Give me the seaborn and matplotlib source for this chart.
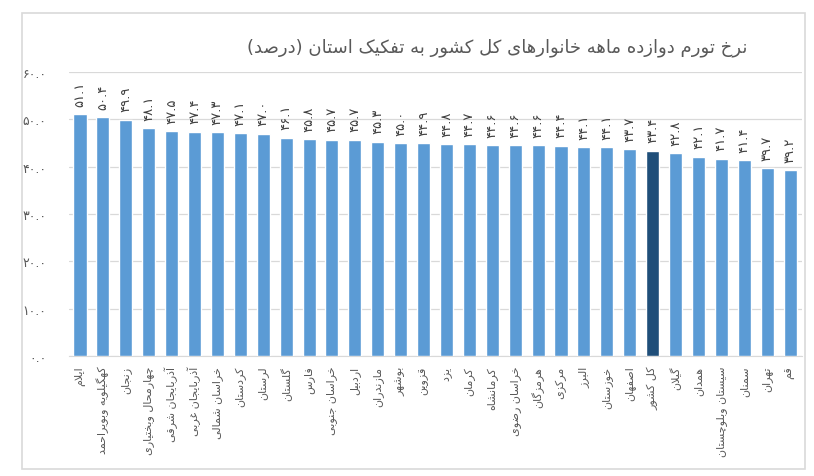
import matplotlib
matplotlib.use("Agg")
import matplotlib.pyplot as plt
from matplotlib.patches import Rectangle
import seaborn as sns
import pandas as pd

# provinces, sorted by 12-month inflation (percent)
provinces = ['ایلام', 'کهگیلویه وبویراحمد', 'زنجان', 'چهارمحال وبختیاری',
             'آذربایجان شرقی', 'آذربایجان غربی', 'خراسان شمالی', 'کردستان',
             'لرستان', 'گلستان', 'فارس', 'خراسان جنوبی', 'اردبیل', 'مازندران',
             'بوشهر', 'قزوین', 'یزد', 'کرمان', 'کرمانشاه', 'خراسان رضوی',
             'هرمزگان', 'مرکزی', 'البرز', 'خوزستان', 'اصفهان', 'کل کشور',
             'گیلان', 'همدان', 'سیستان وبلوچستان', 'سمنان', 'تهران', 'قم']
inflation = [51.1, 50.4, 49.9, 48.1, 47.5, 47.4, 47.3, 47.1, 47.0, 46.1, 45.8,
             45.7, 45.7, 45.3, 45.0, 44.9, 44.8, 44.7, 44.6, 44.6, 44.6, 44.4,
             44.1, 44.1, 43.7, 43.4, 42.8, 42.1, 41.7, 41.4, 39.7, 39.2]
y_ticks = [0, 10, 20, 30, 40, 50, 60]
title = 'نرخ تورم دوازده ماهه خانوارهای کل کشور به تفکیک استان (درصد)'
national = 'کل کشور'

# --- tiny arabic/persian shaper (matplotlib has no complex text layout) ---
FORMS = {
    'ا': '\uFE8D\uFE8E', 'آ': '\uFE81\uFE82', 'د': '\uFEA9\uFEAA', 'ذ': '\uFEAB\uFEAC',
    'ر': '\uFEAD\uFEAE', 'ز': '\uFEAF\uFEB0', 'ژ': '\uFB8A\uFB8B', 'و': '\uFEED\uFEEE',
    'ب': '\uFE8F\uFE90\uFE91\uFE92', 'پ': '\uFB56\uFB57\uFB58\uFB59',
    'ت': '\uFE95\uFE96\uFE97\uFE98', 'ث': '\uFE99\uFE9A\uFE9B\uFE9C',
    'ج': '\uFE9D\uFE9E\uFE9F\uFEA0', 'چ': '\uFB7A\uFB7B\uFB7C\uFB7D',
    'ح': '\uFEA1\uFEA2\uFEA3\uFEA4', 'خ': '\uFEA5\uFEA6\uFEA7\uFEA8',
    'س': '\uFEB1\uFEB2\uFEB3\uFEB4', 'ش': '\uFEB5\uFEB6\uFEB7\uFEB8',
    'ص': '\uFEB9\uFEBA\uFEBB\uFEBC', 'ض': '\uFEBD\uFEBE\uFEBF\uFEC0',
    'ط': '\uFEC1\uFEC2\uFEC3\uFEC4', 'ظ': '\uFEC5\uFEC6\uFEC7\uFEC8',
    'ع': '\uFEC9\uFECA\uFECB\uFECC', 'غ': '\uFECD\uFECE\uFECF\uFED0',
    'ف': '\uFED1\uFED2\uFED3\uFED4', 'ق': '\uFED5\uFED6\uFED7\uFED8',
    'ک': '\uFB8E\uFB8F\uFB90\uFB91', 'گ': '\uFB92\uFB93\uFB94\uFB95',
    'ل': '\uFEDD\uFEDE\uFEDF\uFEE0', 'م': '\uFEE1\uFEE2\uFEE3\uFEE4',
    'ن': '\uFEE5\uFEE6\uFEE7\uFEE8', 'ه': '\uFEE9\uFEEA\uFEEB\uFEEC',
    'ی': '\uFBFC\uFBFD\uFBFE\uFBFF',
}
LAMALEF = {'ا': '\uFEFB\uFEFC', 'آ': '\uFEF5\uFEF6'}


def dual(c):
    return c in FORMS and len(FORMS[c]) == 4


def fa(text):
    res = []
    i, n = 0, len(text)
    while i < n:
        c = text[i]
        if c not in FORMS:
            res.append(c)
            i += 1
            continue
        jp = i > 0 and dual(text[i - 1])
        if c == 'ل' and i + 1 < n and text[i + 1] in LAMALEF:
            res.append(LAMALEF[text[i + 1]][1 if jp else 0])
            i += 2
            continue
        jn = dual(c) and i + 1 < n and text[i + 1] in FORMS
        f = FORMS[c]
        res.append(f[3] if jp and jn else f[1] if jp else f[2] if jn else f[0])
        i += 1
    return ''.join(reversed(res)).translate(str.maketrans('()', ')('))


DIGITS = str.maketrans('0123456789', '۰۱۲۳۴۵۶۷۸۹')


def fa_num(v):
    return f'{v:.1f}'.translate(DIGITS)


df = pd.DataFrame({'province': provinces, 'inflation': inflation})
colors = ['#1F4E79' if p == national else '#5B9BD5' for p in provinces]

sns.set_style("white")
plt.rcParams['font.family'] = ['DejaVu Sans']

fig = plt.figure(figsize=(8.14, 4.77), dpi=100)
ax = fig.add_axes([0.0842, 0.2516, 0.9005, 0.5954])

sns.barplot(data=df, x='province', y='inflation', hue='province',
            palette=colors, saturation=1, legend=False, width=0.57, ax=ax,
            zorder=3)

for cont, v in zip(ax.containers, inflation):
    ax.bar_label(cont, labels=[fa_num(v)], rotation=90, padding=6,
                 fontsize=9.5, color='#404040')

ax.set_ylim(0, 60)
ax.set_xlim(-0.5, len(provinces) - 0.5)
ax.set_yticks(y_ticks)
ax.set_yticklabels([fa_num(t) for t in y_ticks], color='#595959', fontsize=9)
ax.set_xticks(range(len(provinces)))
ax.set_xticklabels([fa(p) for p in provinces], rotation=90, color='#595959',
                   fontsize=8)
ax.tick_params(axis='y', length=0, pad=16)
ax.tick_params(axis='x', length=0, pad=7)
ax.set_xlabel('')
ax.set_ylabel('')
ax.yaxis.grid(True, color='#D9D9D9', linewidth=0.9, zorder=0)
for s in ['left', 'right', 'top']:
    ax.spines[s].set_visible(False)
ax.spines['bottom'].set_color('#D9D9D9')

fig.text(0.611, 0.899, fa(title), ha='center', va='center', fontsize=13,
         color='#595959')

fig.add_artist(Rectangle((0.027, 0.0147), 0.962, 0.956, transform=fig.transFigure,
                         fill=False, edgecolor='#D9D9D9', linewidth=1.2))

fig.savefig('out.png', dpi=100, facecolor='white')
